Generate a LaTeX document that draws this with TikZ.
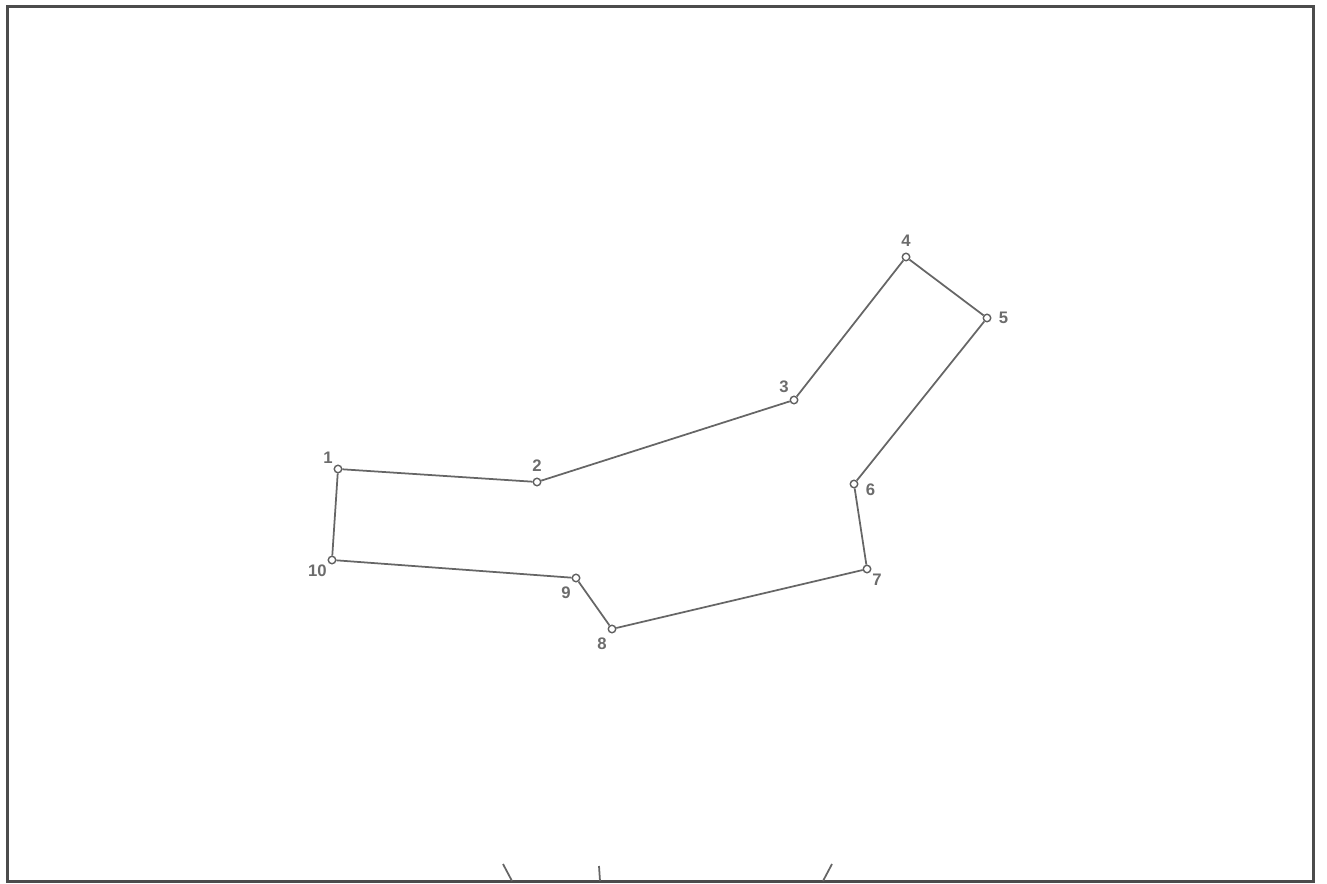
\documentclass[tikz,border=0pt]{standalone}
\usepackage{fontspec}
\setmainfont{Liberation Sans}
\usepackage{tikz}
\usetikzlibrary{positioning,calc}

\begin{document}
\begin{tikzpicture}[
    x=0.02cm, y=-0.02cm,
    vertex/.style={circle, draw=gray!75!black, fill=white, line width=0.8pt, inner sep=0pt, minimum size=0.15cm},
    edge/.style={draw=gray!80!black, line width=1pt},
    lbl/.style={text=gray!85!black, font=\fontsize{9.5}{10}\selectfont\bfseries, inner sep=1pt},
    frame/.style={draw=gray!60!black, line width=1.7pt}
]
\useasboundingbox (0,0) rectangle (1327,884);
\draw[frame] (7.5,6.5) rectangle (1313,881);

% polygon corners
\node[vertex, label={[lbl]above left:1}] (p1) at (338,469) {};
\node[vertex, label={[lbl,yshift=2pt]above:2}] (p2) at (537,482) {};
\node[vertex, label={[lbl,yshift=1pt]above left:3}] (p3) at (794,400) {};
\node[vertex, label={[lbl,yshift=2pt]above:4}] (p4) at (906,257) {};
\node[vertex, label={[lbl,xshift=3pt]right:5}] (p5) at (987,318) {};
\node[vertex, label={[lbl,xshift=3pt,yshift=-3pt]right:6}] (p6) at (854,484) {};
\node[vertex, label={[lbl]below right:7}] (p7) at (867,569) {};
\node[vertex, label={[lbl,yshift=-2pt]below left:8}] (p8) at (612,629) {};
\node[vertex, label={[lbl,yshift=-2pt]below left:9}] (p9) at (576,578) {};
\node[vertex, label={[lbl]below left:10}] (p10) at (332,560) {};

\foreach \a/\b in {1/2, 2/3, 3/4, 4/5, 5/6, 6/7, 7/8, 8/9, 9/10, 10/1}
    \draw[edge] (p\a) -- (p\b);

% ticks on the lower border
\draw[edge] (503,864) -- (512,881);
\draw[edge] (599,866) -- (600,881);
\draw[edge] (832,864) -- (823,881);
\end{tikzpicture}
\end{document}
